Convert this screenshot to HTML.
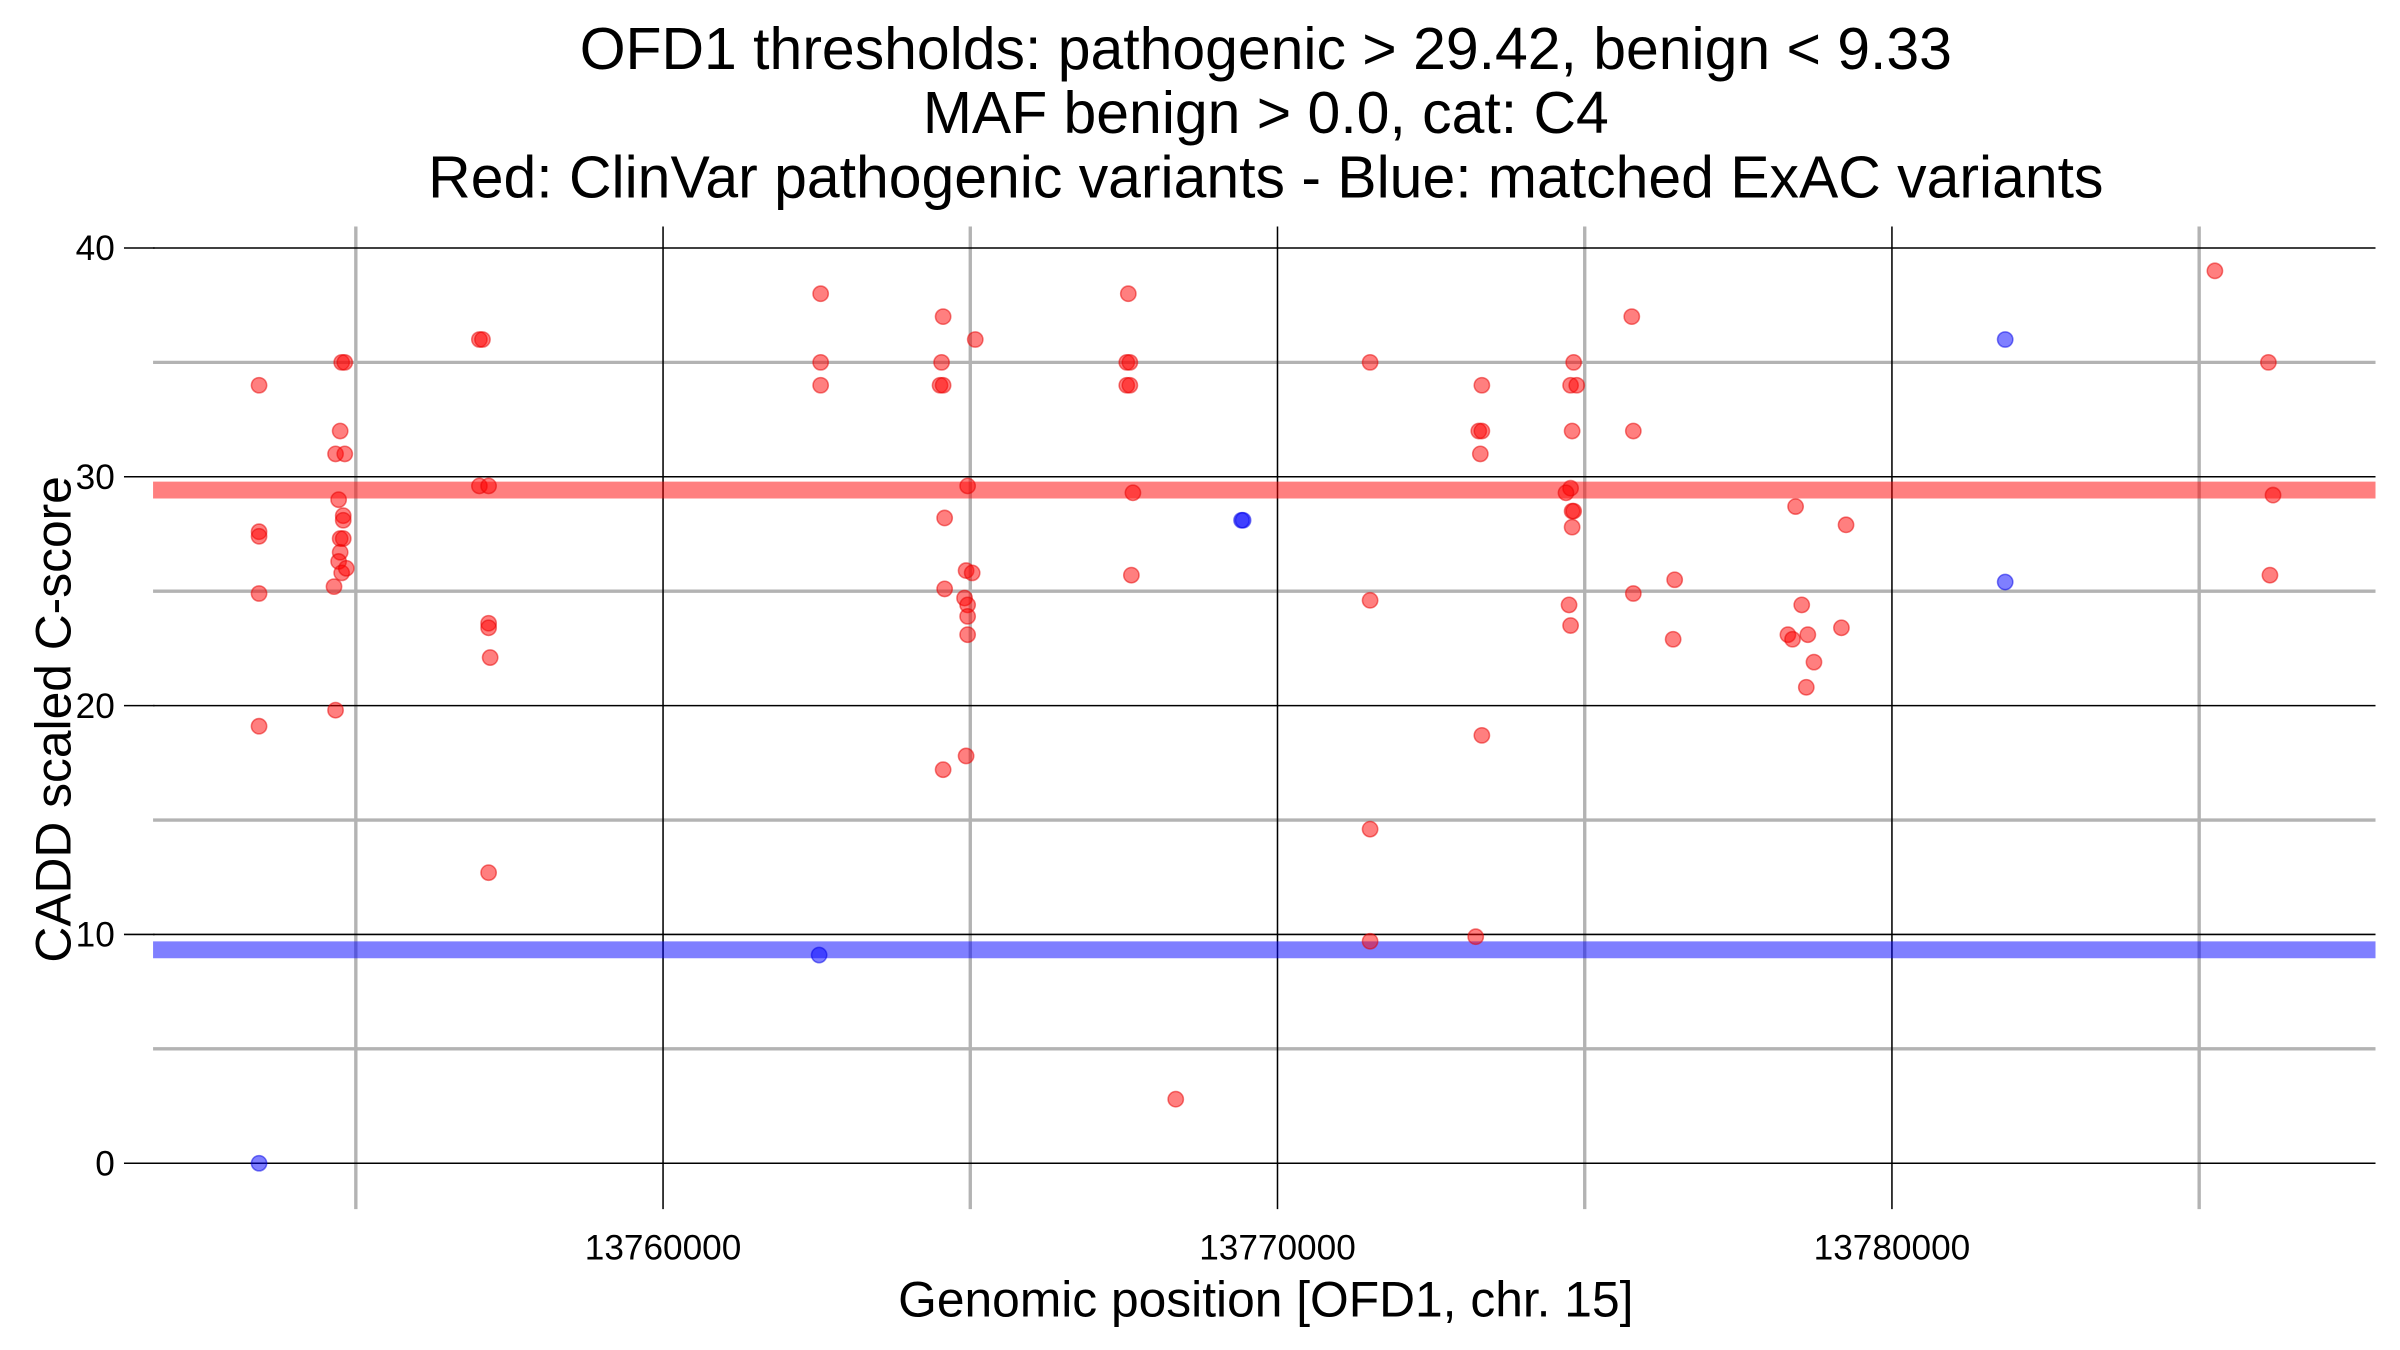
<!DOCTYPE html>
<html><head><meta charset="utf-8"><style>
html,body{margin:0;padding:0;background:#fff;}
svg{display:block;font-family:"Liberation Sans",Arial,sans-serif;}
</style></head><body>
<svg id="chart" width="2400" height="1350" viewBox="0 0 1568 882" xmlns="http://www.w3.org/2000/svg">
<g font-size="38.5" text-anchor="middle" fill="#000">
<text x="827" y="45">OFD1 thresholds: pathogenic &gt; 29.42, benign &lt; 9.33</text>
<text x="827" y="87">MAF benign &gt; 0.0, cat: C4</text>
<text x="827" y="129">Red: ClinVar pathogenic variants - Blue: matched ExAC variants</text>
</g>
<g id="grid"></g>
<g id="thresholds"></g>
<g id="points"></g>
<g id="axes" font-size="23" fill="#000"></g>
<text x="0" y="0" font-size="32.5" text-anchor="middle" transform="translate(46,470) rotate(-90)">CADD scaled C-score</text>
<text x="827" y="860" font-size="32.5" text-anchor="middle">Genomic position [OFD1, chr. 15]</text>
</svg>
<script>
const xMajorTicks=[13760000,13770000,13780000];
const xMinorTicks=[13755000,13765000,13775000,13785000];
const yMajorTicks=[0,10,20,30,40];
const yMinorTicks=[5,15,25,35];
const pathogenicThreshold=29.42;
const benignThreshold=9.33;
const redX=[13753425,13753425,13753425,13753425,13753425,
13754770,13754820,13754745,13754670,13754820,13754720,13754795,13754795,13754745,13754795,13754745,13754720,13754770,13754845,13754645,13754670,
13757011,13757061,13757011,13757161,13757161,13757161,13757186,13757161,
13762565,13762565,13762565,
13764558,13764533,13764508,13764558,13764583,13764583,13765081,13764957,13764932,13765031,13764907,13764957,13764957,13764957,13764932,13764558,
13767572,13767547,13767597,13767547,13767597,13767647,13767622,13768344,
13771507,13771507,13771507,13771507,13773226,
13773326,13773276,13773326,13773301,13773326,
13774820,13774770,13774870,13774795,13774770,13774695,13774795,13774820,13774795,13774745,13774770,
13775766,13775791,13775791,13776464,13776439,
13778432,13778532,13778307,13778382,13778631,13778731,13778606,13779178,13779253,
13785256,13786127,13786202,13786152];
const redY=[34,27.6,27.4,24.9,19.1,
35,35,32,31,31,29,28.3,28.1,27.3,27.3,26.7,26.3,25.8,26,25.2,19.8,
36,36,29.6,29.6,23.6,23.4,22.1,12.7,
38,35,34,
37,35,34,34,28.2,25.1,36,29.6,25.9,25.8,24.7,24.4,23.9,23.1,17.8,17.2,
38,35,35,34,34,29.3,25.7,2.8,
35,24.6,14.6,9.7,9.9,
34,32,32,31,18.7,
35,34,34,32,29.5,29.3,28.5,28.5,27.8,24.4,23.5,
37,32,24.9,25.5,22.9,
28.7,24.4,23.1,22.9,23.1,21.9,20.8,23.4,27.9,
39,35,29.2,25.7];
const blueX=[13753425,13762540,13769415,13769440,13781843,13781843];
const blueY=[0,9.1,28.1,28.1,36,25.4];

const NS="http://www.w3.org/2000/svg";
const L=100,R=1552;
const xDom=[13751700,13787870];
const sx=v=>L+(v-xDom[0])/(xDom[1]-xDom[0])*(R-L);
const sy=v=>760-v*(598/40);
function mk(tag,attrs,parent){const e=document.createElementNS(NS,tag);for(const k in attrs)e.setAttribute(k,attrs[k]);parent.appendChild(e);return e;}
const grid=document.getElementById('grid');
yMinorTicks.forEach(v=>{const l=mk('line',{x1:L,x2:R,y1:sy(v),y2:sy(v),stroke:'#b3b3b3','stroke-width':2.2},grid);

});
xMinorTicks.forEach(v=>{const l=mk('line',{x1:sx(v),x2:sx(v),y1:148,y2:790,stroke:'#b3b3b3','stroke-width':2.2},grid);

});
yMajorTicks.forEach(v=>{const l=mk('line',{x1:L,x2:R,y1:sy(v),y2:sy(v),stroke:'#000','stroke-width':1},grid);

});
xMajorTicks.forEach(v=>{const l=mk('line',{x1:sx(v),x2:sx(v),y1:148,y2:790,stroke:'#000','stroke-width':1},grid);

});
const th=document.getElementById('thresholds');
const tr=mk('line',{x1:L,x2:R,y1:sy(pathogenicThreshold),y2:sy(pathogenicThreshold),stroke:'rgba(255,0,0,0.5)','stroke-width':11},th);


const tb=mk('line',{x1:L,x2:R,y1:sy(benignThreshold),y2:sy(benignThreshold),stroke:'rgba(0,0,255,0.5)','stroke-width':11},th);


const pts=document.getElementById('points');
redX.forEach((x,i)=>{const c=mk('circle',{cx:sx(x),cy:sy(redY[i]),r:5,fill:'rgba(255,0,0,0.5)',stroke:'rgba(230,0,0,0.5)','stroke-width':1},pts);

});
blueX.forEach((x,i)=>{const c=mk('circle',{cx:sx(x),cy:sy(blueY[i]),r:5,fill:'rgba(0,0,255,0.5)',stroke:'rgba(0,0,230,0.5)','stroke-width':1},pts);

});
const ax=document.getElementById('axes');
yMajorTicks.forEach(v=>{const t=mk('line',{x1:81,x2:101,y1:sy(v),y2:sy(v),stroke:'#000','stroke-width':1},ax);


const tx=mk('text',{x:75,y:sy(v)+8,'text-anchor':'end'},ax);tx.textContent=v;

});
xMajorTicks.forEach(v=>{const tx=mk('text',{x:sx(v),y:823,'text-anchor':'middle'},ax);tx.textContent=v;

});
</script>
</body></html>
